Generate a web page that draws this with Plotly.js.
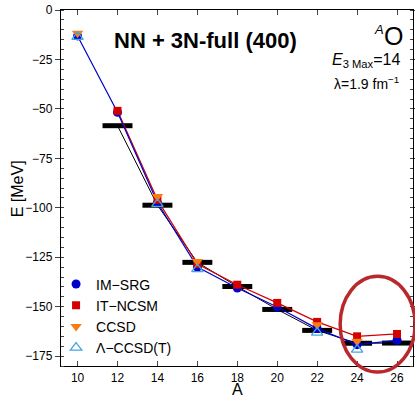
<!DOCTYPE html>
<html>
<head>
<meta charset="utf-8">
<script src="https://cdn.plot.ly/plotly-3.0.1.min.js"></script>
<style>html,body{margin:0;padding:0;background:#fff;}#chart{width:415px;height:398px;}</style>
</head>
<body>
<div id="chart"></div>
<script>
// Mass numbers
const A_all = [10, 12, 14, 16, 18, 20, 22, 24, 26];
const A_exp = [12, 14, 16, 18, 20, 22, 24, 26];
const A_cc = [10, 14, 16, 22, 24];
const A_ncsm = [12, 14, 16, 18, 20, 22, 24, 26];
// Energies [MeV]
const E_exp = [-58.5, -98.7, -127.6, -139.8, -151.4, -162.0, -168.5, -168.4];
const E_imsrg = [-13.1, -51.7, -97.5, -130.0, -140.6, -150.2, -161.1, -169.2, -167.0];
const E_ncsm = [-51.0, -96.0, -128.5, -138.9, -148.1, -157.7, -165.0, -163.8];
const E_ccsd = [-11.8, -94.3, -127.2, -159.1, -167.5];
const E_lccsdt = [-13.6, -98.0, -131.0, -163.1, -171.7];
const xTicks = [10, 12, 14, 16, 18, 20, 22, 24, 26];
const yTicks = [0, -25, -50, -75, -100, -125, -150, -175];

const FONT = "Liberation Sans, Arial, Helvetica, sans-serif";
const blue = "rgb(0,0,205)";
const red = "rgb(210,0,0)";
const orange = "rgb(250,125,20)";
const lblue = "rgb(70,165,225)";

const traces = [
  {x: A_exp, y: E_exp, mode: "lines", line: {color: "black", width: 1},
   error_x: {type: "constant", value: 0.75, thickness: 5, width: 0, color: "black"},
   showlegend: false, hoverinfo: "skip"},
  {x: A_ncsm, y: E_ncsm, mode: "lines", line: {color: red, width: 1.2}, showlegend: false},
  {x: A_all, y: E_imsrg, mode: "lines", line: {color: blue, width: 1.2}, showlegend: false},
  {x: A_all, y: E_imsrg, mode: "markers", name: "IM−SRG",
   marker: {symbol: "circle", size: 9, color: blue}},
  {x: A_ncsm, y: E_ncsm, mode: "markers", name: "IT−NCSM",
   marker: {symbol: "square", size: 8, color: red}},
  {x: A_cc, y: E_ccsd, mode: "markers", name: "CCSD",
   marker: {symbol: "triangle-down", size: 10, color: orange}},
  {x: A_cc, y: E_lccsdt, mode: "markers", name: "Λ−CCSD(T)",
   marker: {symbol: "triangle-up-open", size: 10, color: lblue, line: {width: 1.3, color: lblue}}}
];

const layout = {
  width: 415, height: 398,
  margin: {l: 60.5, r: 2, t: 10, b: 31.5},
  paper_bgcolor: "white", plot_bgcolor: "white",
  font: {family: FONT, color: "black", size: 12},
  showlegend: true,
  legend: {x: -0.014, y: 0.274, xanchor: "left", yanchor: "top",
           font: {family: FONT, size: 14}, bgcolor: "rgba(0,0,0,0)", tracegroupgap: 0},
  xaxis: {range: [9.17, 26.8], tickvals: xTicks, ticks: "inside", ticklen: 5,
          showline: true, linecolor: "black", linewidth: 1.2, mirror: "ticks",
          showgrid: false, zeroline: false, tickfont: {size: 12}},
  yaxis: {range: [-180, 0], tickvals: yTicks, ticks: "outside", ticklen: 5,
          minor: {dtick: 5, ticks: "inside", ticklen: 3, showgrid: false},
          showline: true, linecolor: "black", linewidth: 1.2, mirror: "ticks",
          showgrid: false, zeroline: false, tickfont: {size: 12}},
  annotations: [
    {xref: "paper", yref: "paper", x: 0.5007, y: -0.0659, text: "A",
     showarrow: false, font: {size: 16}, xanchor: "center", yanchor: "middle"},
    {xref: "paper", yref: "paper", x: -0.1234, y: 0.498, text: "E [MeV]", textangle: -90,
     showarrow: false, font: {size: 16}, xanchor: "center", yanchor: "middle"},
    {xref: "paper", yref: "paper", x: 0.411, y: 0.913, text: "<b>NN + 3N-full (400)</b>",
     showarrow: false, font: {size: 22}, xanchor: "center", yanchor: "middle"},
    {xref: "paper", yref: "paper", x: 0.946, y: 0.926, text: "O",
     showarrow: false, font: {size: 25}, xanchor: "center", yanchor: "middle"},
    {xref: "paper", yref: "paper", x: 0.903, y: 0.946, text: "<i>A</i>",
     showarrow: false, font: {size: 13}, xanchor: "center", yanchor: "middle"},
    {xref: "paper", yref: "paper", x: 0.969, y: 0.857, text: "<i>E</i><sub>3 Max</sub>=14",
     showarrow: false, font: {size: 16}, xanchor: "right", yanchor: "middle"},
    {xref: "paper", yref: "paper", x: 0.965, y: 0.795, text: "λ=1.9 fm<sup>−1</sup>",
     showarrow: false, font: {size: 14}, xanchor: "right", yanchor: "middle"}
  ],
  shapes: [
    {type: "circle", xref: "paper", yref: "paper", x0: 0.793, x1: 1.006, y0: -0.017, y1: 0.252,
     line: {color: "rgb(185,40,45)", width: 3.5}, layer: "above"}
  ]
};

Plotly.newPlot("chart", traces, layout, {displayModeBar: false, staticPlot: true});
</script>
</body>
</html>
